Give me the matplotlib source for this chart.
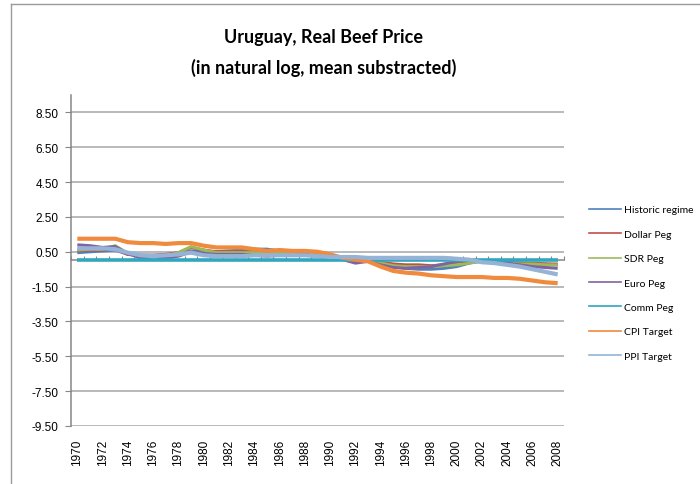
import matplotlib
matplotlib.use("Agg")
import matplotlib.pyplot as plt
from matplotlib.lines import Line2D
import numpy as np

# Years and regime series (log real beef price, mean removed)
years = list(range(1970, 2009))
series_names = ["Historic regime", "Dollar Peg", "SDR Peg", "Euro Peg",
                "Comm Peg", "CPI Target", "PPI Target"]
historic = [0.45, 0.5, 0.55, 0.6, 0.35, 0.3, 0.3, 0.3, 0.35, 0.55, 0.5, 0.5, 0.55, 0.6,
            0.65, 0.65, 0.55, 0.5, 0.5, 0.45, 0.3, 0.15, 0.05, 0.0, -0.15, -0.35, -0.45,
            -0.5, -0.5, -0.45, -0.35, -0.15, 0.0, -0.05, -0.1, -0.15, -0.2, -0.2, -0.25]
dollar = [0.55, 0.6, 0.6, 0.7, 0.35, 0.3, 0.3, 0.35, 0.45, 0.75, 0.6, 0.5, 0.5, 0.5,
          0.5, 0.45, 0.45, 0.45, 0.45, 0.35, 0.2, 0.1, 0.05, 0.0, -0.1, -0.2, -0.25,
          -0.25, -0.3, -0.25, -0.15, -0.1, -0.05, -0.1, -0.15, -0.15, -0.15, -0.2, -0.2]
sdr = [0.6, 0.65, 0.65, 0.85, 0.4, 0.25, 0.2, 0.25, 0.45, 0.8, 0.6, 0.45, 0.45, 0.45,
       0.45, 0.4, 0.4, 0.4, 0.4, 0.3, 0.2, 0.1, 0.0, -0.05, -0.15, -0.3, -0.35,
       -0.35, -0.35, -0.3, -0.25, -0.15, -0.05, -0.1, -0.15, -0.2, -0.2, -0.25, -0.25]
euro = [0.9, 0.85, 0.75, 0.8, 0.4, 0.15, 0.2, 0.15, 0.25, 0.5, 0.4, 0.35, 0.35, 0.35,
        0.3, 0.25, 0.3, 0.3, 0.35, 0.25, 0.1, 0.05, -0.15, -0.05, -0.25, -0.4, -0.45,
        -0.4, -0.35, -0.2, -0.05, 0.0, -0.05, -0.1, -0.15, -0.25, -0.35, -0.4, -0.45]
comm = [0.05] * 39
cpi = [1.25, 1.25, 1.25, 1.25, 1.05, 1.0, 1.0, 0.95, 1.0, 1.0, 0.85, 0.75, 0.75, 0.75,
       0.65, 0.55, 0.6, 0.55, 0.55, 0.5, 0.35, 0.15, 0.05, -0.05, -0.35, -0.6, -0.7,
       -0.75, -0.85, -0.9, -0.95, -0.95, -0.95, -1.0, -1.0, -1.05, -1.15, -1.25, -1.3]
ppi = [0.7, 0.7, 0.7, 0.65, 0.45, 0.3, 0.25, 0.3, 0.35, 0.45, 0.3, 0.25, 0.25, 0.25,
       0.3, 0.3, 0.3, 0.3, 0.3, 0.25, 0.2, 0.2, 0.2, 0.15, 0.15, 0.15, 0.15,
       0.15, 0.15, 0.15, 0.1, 0.05, -0.1, -0.15, -0.25, -0.35, -0.5, -0.65, -0.8]
y_ticks = [-9.5, -7.5, -5.5, -3.5, -1.5, 0.5, 2.5, 4.5, 6.5, 8.5]

colors = ["#4F81BD", "#C0504D", "#9BBB59", "#8064A2", "#31A6BE", "#F08A3C", "#95B3D7"]
widths = [2.2, 2.2, 2.2, 2.2, 2.6, 3.0, 3.0]
data = [historic, dollar, sdr, euro, comm, cpi, ppi]

plt.rcParams["font.family"] = ["Liberation Sans", "DejaVu Sans"]

fig = plt.figure(figsize=(7, 4.85), dpi=100)
ax = fig.add_axes([71 / 700, 1 - 427 / 485, (564 - 71) / 700, (427 - 96) / 485])

x = np.arange(len(years))
grid_c = "#A6A6A6"
axis_c = "#868686"
for vals, col, lw in zip(data, colors, widths):
    ax.plot(x, vals, color=col, lw=lw, solid_capstyle="butt", solid_joinstyle="round")

ax.set_xlim(-0.5, len(years) - 0.5)
ax.set_ylim(-9.5, 9.5)
ax.set_yticks(y_ticks)
ax.set_yticklabels(["%.2f" % v for v in y_ticks], fontsize=8.5)
ax.yaxis.grid(True, color=grid_c, lw=1.1)
ax.set_axisbelow(True)
ax.tick_params(axis="y", length=4, color=axis_c, pad=5)

ax.set_xticks(x[::2])
ax.set_xticklabels([str(y) for y in years[::2]], rotation=90, fontsize=8.5)
ax.tick_params(axis="x", length=0, pad=9)

for side in ["top", "right", "bottom"]:
    ax.spines[side].set_visible(False)
ax.spines["left"].set_color(axis_c)
ax.spines["left"].set_linewidth(1.1)

# category axis crossing at zero, with tick marks between categories
zero_pos = (0 - (-9.5)) / 19
sec = ax.secondary_xaxis(zero_pos)
sec.set_xticks(np.arange(len(years) + 1) - 0.5)
sec.set_xticklabels([])
sec.tick_params(length=3, color=axis_c, direction="out")
for sp in sec.spines.values():
    sp.set_color(axis_c)
    sp.set_linewidth(1.1)
sec.set_zorder(0.5)

fig.text(324 / 700, 1 - 37 / 485, "Uruguay, Real Beef Price", ha="center", va="center",
         fontsize=13, fontweight="bold", family=["Lato", "DejaVu Sans"])
fig.text(324 / 700, 1 - 68 / 485, "(in natural log, mean substracted)", ha="center",
         va="center", fontsize=13, fontweight="bold", family=["Lato", "DejaVu Sans"])

handles = [Line2D([], [], color=c, lw=1.2) for c in colors]
fig.legend(handles, series_names, loc="center left",
           bbox_to_anchor=(580 / 700, 1 - 284 / 485), frameon=False,
           handlelength=3.0, handletextpad=0.3, labelspacing=1.45,
           prop={"family": ["Lato", "DejaVu Sans"], "size": 7.5})

# outer chart border
fig.add_artist(Line2D([11 / 700, 1.0], [1 - 5 / 485, 1 - 5 / 485], color="#9A9A9A", lw=1))
fig.add_artist(Line2D([11 / 700, 11 / 700], [0.0, 1 - 5 / 485], color="#9A9A9A", lw=1))

fig.savefig("out.png", dpi=100)
